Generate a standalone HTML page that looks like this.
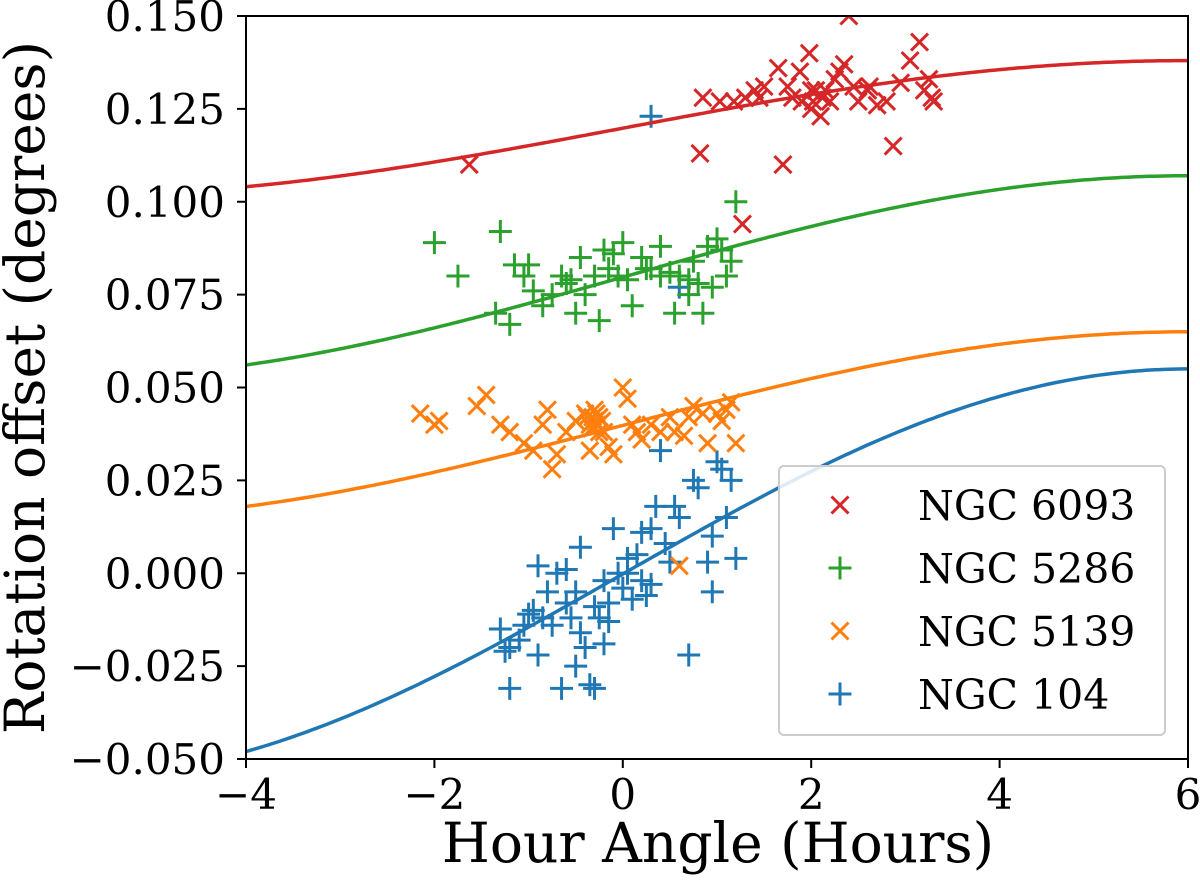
<!DOCTYPE html>
<html><head><meta charset="utf-8"><style>
html,body{margin:0;padding:0;background:#fff;}
svg{display:block;font-family:"DejaVu Serif","Liberation Serif",serif;}
</style></head><body>
<svg id="chart" width="1200" height="886">
<g id="marks"></g>
<g id="axes"></g>
<g id="legend"></g>
</svg>
<script>
const xTicks=[-4,-2,0,2,4,6];
const yTicks=[-0.05,-0.025,0,0.025,0.05,0.075,0.1,0.125,0.15];
const yTickLabels=["\u22120.050","\u22120.025","0.000","0.025","0.050","0.075","0.100","0.125","0.150"];
const xTickLabels=["\u22124","\u22122","0","2","4","6"];
const seriesNames=["NGC 6093","NGC 5286","NGC 5139","NGC 104"];
const seriesColors=["#d62728","#2ca02c","#ff7f0e","#1f77b4"];
const seriesMarkers=["x","+","x","+"];
const curveOffset=[0.1198,0.0797,0.0398,-0.0002];
const curveAmp=[0.0182,0.0273,0.0252,0.0552];
const redH=[-1.63,0.85,0.82,1.03,1.18,1.3,1.4,1.5,1.65,1.7,1.75,1.8,1.88,1.98,2.0,2.05,2.1,2.15,2.2,2.25,2.3,2.35,2.4,2.45,2.5,2.6,2.7,2.8,2.87,2.95,3.05,3.15,3.2,3.25,3.3,3.28,1.9,2.02,2.62,1.27,2.0,2.12,1.45];
const redV=[0.110,0.128,0.113,0.127,0.127,0.128,0.130,0.131,0.136,0.110,0.131,0.128,0.135,0.140,0.125,0.130,0.123,0.130,0.127,0.133,0.135,0.137,0.150,0.131,0.127,0.130,0.126,0.127,0.115,0.132,0.138,0.143,0.130,0.133,0.127,0.128,0.127,0.127,0.131,0.094,0.130,0.128,0.128];
const greenH=[-2.0,-1.75,-1.35,-1.3,-1.2,-1.15,-1.05,-1.0,-0.95,-0.85,-0.75,-0.65,-0.6,-0.55,-0.5,-0.45,-0.4,-0.3,-0.25,-0.2,-0.15,-0.1,-0.05,0.0,0.05,0.1,0.2,0.3,0.4,0.5,0.55,0.6,0.7,0.75,0.8,0.85,0.9,0.95,1.0,1.05,1.1,1.15,1.2,0.4,0.25,0.7];
const greenV=[0.089,0.080,0.070,0.092,0.067,0.083,0.080,0.083,0.076,0.072,0.075,0.080,0.078,0.079,0.070,0.085,0.075,0.080,0.068,0.087,0.082,0.086,0.080,0.089,0.079,0.072,0.085,0.082,0.080,0.081,0.070,0.080,0.079,0.084,0.078,0.070,0.088,0.077,0.090,0.087,0.080,0.084,0.100,0.088,0.082,0.075];
const orangeH=[-2.15,-2.0,-1.95,-1.55,-1.45,-1.3,-1.2,-1.05,-0.95,-0.85,-0.8,-0.75,-0.7,-0.6,-0.5,-0.4,-0.35,-0.3,-0.25,-0.2,-0.15,-0.1,0.0,0.05,0.1,0.2,0.3,0.4,0.5,0.55,0.65,0.7,0.75,0.85,0.9,1.0,1.05,1.1,1.15,1.2,0.6,-0.35,-0.25,0.15,-0.32,-0.28,-0.22,-0.38,-0.3,-0.27,-0.33];
const orangeV=[0.043,0.040,0.041,0.045,0.048,0.040,0.038,0.035,0.033,0.040,0.044,0.028,0.032,0.038,0.041,0.043,0.040,0.041,0.042,0.038,0.034,0.032,0.050,0.047,0.040,0.036,0.040,0.038,0.042,0.038,0.037,0.042,0.045,0.043,0.035,0.043,0.041,0.044,0.046,0.035,0.002,0.033,0.038,0.038,0.042,0.043,0.041,0.042,0.044,0.040,0.039];
const blueH=[-1.3,-1.2,-1.25,-1.1,-1.05,-0.95,-0.9,-0.85,-0.8,-0.75,-0.7,-0.65,-0.6,-0.55,-0.5,-0.45,-0.4,-0.35,-0.3,-0.25,-0.2,-0.15,-0.1,-0.05,0.0,0.05,0.1,0.15,0.2,0.25,0.3,0.35,0.4,0.45,0.5,0.55,0.6,0.7,0.75,0.8,0.9,0.95,1.0,1.05,1.1,1.15,1.2,-1.0,-0.5,-0.2,0.3,-0.9,-1.2,-0.15,0.05,-0.6,0.95,-0.45,-0.3,0.2,0.3,0.6];
const blueV=[-0.015,-0.020,-0.021,-0.018,-0.014,-0.010,-0.022,-0.012,-0.005,-0.014,0.000,-0.031,-0.008,-0.012,-0.005,0.007,-0.020,-0.030,-0.031,-0.012,-0.002,-0.013,0.012,0.000,-0.004,0.004,-0.007,0.005,0.011,-0.006,0.012,0.018,0.033,0.008,0.003,0.018,0.015,-0.022,0.025,0.023,0.003,0.010,0.030,0.028,0.015,0.025,0.004,-0.011,-0.025,-0.019,-0.003,0.002,-0.031,-0.008,0.000,0.001,-0.005,-0.016,-0.009,-0.002,0.123,0.077];
const seriesH=[redH,greenH,orangeH,blueH];
const seriesV=[redV,greenV,orangeV,blueV];

const NS="http://www.w3.org/2000/svg";
const L=246,R=1188,T=16,B=759;
const xMin=-4,xMax=6,yMin=-0.05,yMax=0.15;
const sx=h=>L+(h-xMin)/(xMax-xMin)*(R-L);
const sy=v=>B-(v-yMin)/(yMax-yMin)*(B-T);
function mk(tag,attrs,parent){const e=document.createElementNS(NS,tag);for(const k in attrs)e.setAttribute(k,attrs[k]);parent.appendChild(e);return e;}
const marks=document.getElementById('marks'),axes=document.getElementById('axes'),legend=document.getElementById('legend');
const cp=mk('clipPath',{id:'clip'},marks);
mk('rect',{x:L,y:T,width:R-L,height:B-T},cp);
function marker(g,type,x,y,c,s){
  let d=type==='x'?`M${x-s} ${y-s}L${x+s} ${y+s}M${x-s} ${y+s}L${x+s} ${y-s}`:`M${x-s*1.35} ${y}L${x+s*1.35} ${y}M${x} ${y-s*1.35}L${x} ${y+s*1.35}`;
  return mk('path',{d:d,stroke:c,'stroke-width':3,fill:'none'},g);
}
for(let si=3;si>=0;si--){
  const g=mk('g',{'clip-path':'url(#clip)'},marks);
  
  
  let d='';
  for(let i=0;i<=200;i++){const h=xMin+(xMax-xMin)*i/200;const v=curveOffset[si]+curveAmp[si]*Math.cos(2*Math.PI*(h-6)/24);d+=(i?'L':'M')+sx(h).toFixed(1)+' '+sy(v).toFixed(1);}
  const p=mk('path',{d:d,stroke:seriesColors[si],'stroke-width':3.5,fill:'none'},g);
  
  
  const H=seriesH[si],V=seriesV[si];
  for(let i=0;i<H.length;i++){
    const m=marker(g,seriesMarkers[si],sx(H[i]),sy(V[i]),seriesColors[si],8.5);
    
    
  }
}
mk('rect',{x:L,y:T,width:R-L,height:B-T,fill:'none',stroke:'#000','stroke-width':2},axes);
xTicks.forEach((t,i)=>{
  mk('line',{x1:sx(t),x2:sx(t),y1:B,y2:B+9,stroke:'#000','stroke-width':2},axes);
  const tx=mk('text',{x:sx(t),y:B+50,'font-size':42,'text-anchor':'middle'},axes);tx.textContent=xTickLabels[i];
  
  
});
yTicks.forEach((t,i)=>{
  mk('line',{x1:L-9,x2:L,y1:sy(t),y2:sy(t),stroke:'#000','stroke-width':2},axes);
  const tx=mk('text',{x:L-21,y:sy(t)+15,'font-size':42,'text-anchor':'end'},axes);tx.textContent=yTickLabels[i];
  
  
});
const xt=mk('text',{x:718,y:862,'font-size':55,'text-anchor':'middle'},axes);xt.textContent='Hour Angle (Hours)';


const yt=mk('text',{x:0,y:0,'font-size':55,'text-anchor':'middle',transform:`translate(44 ${(T+B)/2}) rotate(-90)`},axes);yt.textContent='Rotation offset (degrees)';


mk('rect',{x:779,y:466,width:386,height:269,rx:5,fill:'#fff','fill-opacity':0.85,stroke:'#ccc','stroke-width':2},legend);
seriesNames.forEach((n,i)=>{
  const y=505+i*63;
  const g=mk('g',{},legend);
  
  
  marker(g,seriesMarkers[i],840,y,seriesColors[i],8.5);
  const t=mk('text',{x:918,y:y+15,'font-size':41},g);t.textContent=n;
});
</script>
</body></html>
